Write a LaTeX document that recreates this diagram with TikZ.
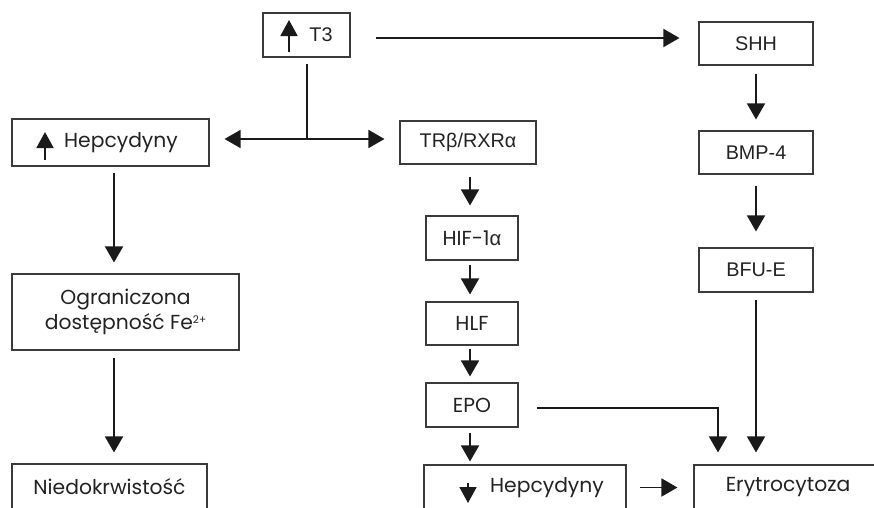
\documentclass[tikz,border=0pt]{standalone}
\usepackage{fontspec}
\setmainfont{Poppins}
\newfontfamily\arialf{Liberation Sans}
\usetikzlibrary{arrows.meta}
\definecolor{linec}{HTML}{1A1A1A}
\definecolor{boxc}{HTML}{3A3A3A}
\definecolor{txtc}{HTML}{222222}
\begin{document}
\begin{tikzpicture}[x=1pt,y=-1pt,
  box/.style={draw=boxc, line width=1.1pt, inner sep=0pt, text=txtc, align=center,
              font=\fontsize{20.3}{25}\selectfont},
  afont/.style={font=\arialf\fontsize{19.8}{24}\selectfont},
  ln/.style={draw=linec, line width=1.7pt},
  arr/.style={draw=linec, line width=1.7pt, -{Triangle[width=18pt,length=16pt]}},
  inarr/.style={draw=linec, line width=1.7pt, -{Triangle[width=17pt,length=16pt]}}]
\useasboundingbox (0,0) rectangle (874,507);
\clip (0,0) rectangle (874,507);

% nodes
\node[box, afont, minimum width=87pt, minimum height=44pt] (t3) at (306.5,35) {\hspace*{29pt}T3};
\node[box, afont, minimum width=114pt, minimum height=43pt] (shh) at (756,43.5) {SHH};
\node[box, afont, minimum width=114pt, minimum height=43pt] (bmp) at (756,152.5) {BMP-4};
\node[box, afont, minimum width=114pt, minimum height=44pt] (bfu) at (756,270) {BFU-E};
\node[box, afont, minimum width=136pt, minimum height=43pt] (tr) at (468,142.5) {TRβ/RXRα};
\node[box, minimum width=197pt, minimum height=47pt] (hepL) at (110.5,142.5) {\hspace*{21pt}Hepcydyny};
\node[box, minimum width=227pt, minimum height=76pt] (ogr) at (125.5,312) {Ograniczona\\dostępność Fe\raisebox{6.5pt}{\fontsize{10.5}{10.5}\selectfont 2+}};
\node[box, minimum width=195pt, minimum height=46pt] (nie) at (109.5,487) {Niedokrwistość};
\node[box, minimum width=92pt, minimum height=44pt] (hif) at (472,238) {HIF-1{\arialf α}};
\node[box, minimum width=92pt, minimum height=43pt] (hlf) at (472,323.5) {HLF};
\node[box, minimum width=92pt, minimum height=44pt] (epo) at (472,405) {EPO};
\node[box, minimum width=202pt, minimum height=45pt] (hepD) at (525,487.5) {\hspace*{44pt}Hepcydyny};
\node[box, minimum width=188pt, minimum height=45pt] (ery) at (788,487.5) {Erytrocytoza};

% helper coordinates
\coordinate (j) at (307,139);
\coordinate (top) at (0,38);
\coordinate (cL) at (114,0);
\coordinate (cM) at (470,0);
\coordinate (eb) at (718,408);

% inner arrows
\draw[inarr] (289,52) -- (289,20);
\draw[inarr] (45,160) -- (45,132);
\draw[inarr] (468,483) -- (468,503);

% connectors
\draw[arr, shorten <=25pt, shorten >=19pt] (t3.east |- top) -- (shh.west |- top);
\draw[ln, shorten <=6pt] (t3.south -| j) -- (j);
\draw[arr, shorten >=15pt] (j) -- (hepL.east |- j);
\draw[arr, shorten >=15pt] (j) -- (tr.west |- j);

\draw[arr, shorten <=6pt, shorten >=11pt] (hepL.south -| cL) -- (ogr.north -| cL);
\draw[arr, shorten <=7pt, shorten >=11pt] (ogr.south -| cL) -- (nie.north -| cL);

\draw[arr, shorten <=12pt, shorten >=10pt] (tr.south -| cM) -- (hif.north -| cM);
\draw[arr, shorten <=4pt, shorten >=7pt] (hif.south -| cM) -- (hlf.north -| cM);
\draw[arr, shorten <=3pt, shorten >=6pt] (hlf.south -| cM) -- (epo.north -| cM);
\draw[arr, shorten <=5pt, shorten >=3pt] (epo.south -| cM) -- (hepD.north -| cM);

\draw[arr, shorten <=8pt, shorten >=11pt] (shh.south) -- (bmp.north);
\draw[arr, shorten <=11pt, shorten >=16pt] (bmp.south) -- (bfu.north);
\draw[arr, shorten <=7pt, shorten >=12pt] (bfu.south) -- (ery.north -| bfu.south);

\draw[arr, shorten <=18pt, shorten >=12pt] (epo.east |- eb) -| (eb |- ery.north);
\draw[arr, shorten <=13pt, shorten >=16pt] (hepD.east) -- (ery.west);
\end{tikzpicture}
\end{document}
